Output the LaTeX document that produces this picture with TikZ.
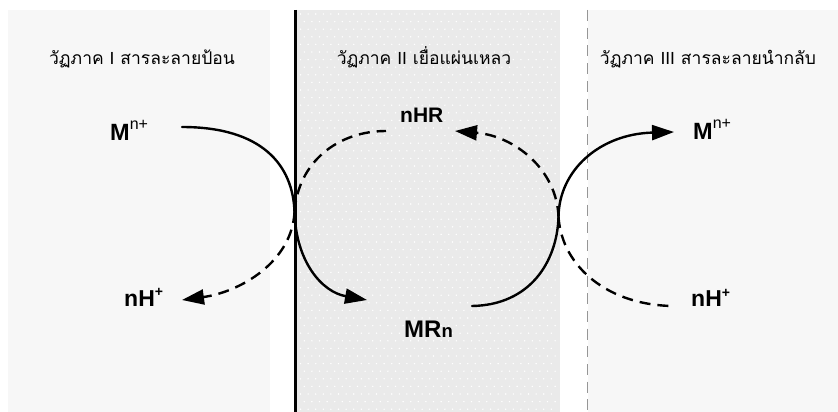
\documentclass[tikz,border=0pt]{standalone}
\usepackage{fontspec}
\setmainfont{Liberation Sans}
\newfontfamily\thaifont[Script=Thai]{Loma}
\newfontfamily\latinfont{Liberation Sans}
\usetikzlibrary{arrows.meta}

\definecolor{feedgray}{RGB}{247,247,247}
\definecolor{membgray}{RGB}{234,234,234}
\definecolor{bordergray}{RGB}{150,150,150}

% species labels: bold letters with lighter raised charges
\newcommand\ionlabel[2]{{\fontsize{23.5}{24}\selectfont\bfseries #1}\raisebox{10.5pt}{\fontsize{16}{16}\selectfont #2}}
\newcommand\protlabel{{\fontsize{23}{24}\selectfont\bfseries nH}\raisebox{9.5pt}{\fontsize{14}{14}\selectfont\bfseries +}}

\begin{document}
\begin{tikzpicture}[x=1pt,y=-1pt,
  phase/.style={font=\thaifont\fontsize{17.5}{20}\selectfont, anchor=base, inner sep=0pt},
  species/.style={anchor=base west, inner sep=0pt},
  flow/.style={line width=2.4pt, line cap=round},
  backflow/.style={line width=2.4pt, dash pattern=on 11pt off 7pt},
  tip/.style={-{Triangle[length=22pt,width=15pt]}}
]
\useasboundingbox (0,0) rectangle (838,412);
\fill[white] (0,0) rectangle (838,412);

% the three phases
\fill[feedgray] (8,10) rectangle (270,412);
\fill[membgray] (297,10) rectangle (559.5,412);
\fill[feedgray] (588,10) rectangle (838,412);

% dotted texture of the liquid membrane
\foreach \r in {0,...,52}{
  \pgfmathsetmacro{\yy}{14+7.6*\r}
  \pgfmathsetmacro{\xoff}{mod(\r,2)*3.8}
  \foreach \c in {0,...,33}{
    \fill[white] ({300.5+\xoff+7.6*\c},\yy) circle (0.8);
  }
}

% phase boundaries
\draw[line width=2.4pt, black] (295.3,10) -- (295.3,412);
\draw[bordergray, line width=1pt, dash pattern=on 11pt off 6.7pt] (587.7,10) -- (587.7,412);

% phase titles
\node[phase] (t1) at (142,64.3) {วัฏภาค {\latinfont I} สารละลายป้อน};
\node[phase] (t2) at (424,64.3) {วัฏภาค {\latinfont II} เยื่อแผ่นเหลว};
\node[phase] (t3) at (708,64.3) {วัฏภาค {\latinfont III} สารละลายนำกลับ};

% species
\node[species] (mfeed) at (110,140) {\ionlabel{M}{n+}};
\node[species] (hfeed) at (124,306) {\protlabel};
\node[species] (hr) at (400,122) {\fontsize{21}{22}\selectfont\bfseries nHR};
\node[species] (mr) at (404,337) {{\fontsize{24}{26}\selectfont\bfseries MR}{\fontsize{18.5}{20}\selectfont\bfseries n}};
\node[species] (mstrip) at (693,139.3) {\ionlabel{M}{n+}};
\node[species] (hstrip) at (691,306.7) {\protlabel};

% connector ends
\coordinate (jl) at (294.5,212);
\coordinate (jr) at (558.5,217);
\coordinate (mfeedout) at (182,127);
\coordinate (hfeedin) at (182,300);
\coordinate (hrleft) at (386,131);
\coordinate (hrright) at (455,131);
\coordinate (mrin) at (367,300);
\coordinate (mrout) at (472,306);
\coordinate (mstripin) at (674,132);
\coordinate (hstripout) at (675,306);

% interface at the feed side
\draw[flow, tip] (mfeedout) .. controls (262,127) and (293,165) .. (jl)
  .. controls (296,262) and (322,292) .. (mrin);
\draw[backflow, tip] (jl) .. controls (292,262) and (240,292) .. (hfeedin);

% carrier returning through the membrane
\draw[backflow] (jl) .. controls (298,162) and (338,131) .. (hrleft);
\draw[backflow, tip] (jr) .. controls (557,170) and (515,136) .. (hrright);

% interface at the stripping side
\draw[flow, tip] (mrout) .. controls (530,305) and (557,262) .. (jr)
  .. controls (559,170) and (600,134) .. (mstripin);
\draw[backflow] (jr) .. controls (562,268) and (610,306) .. (hstripout);
\end{tikzpicture}
\end{document}
